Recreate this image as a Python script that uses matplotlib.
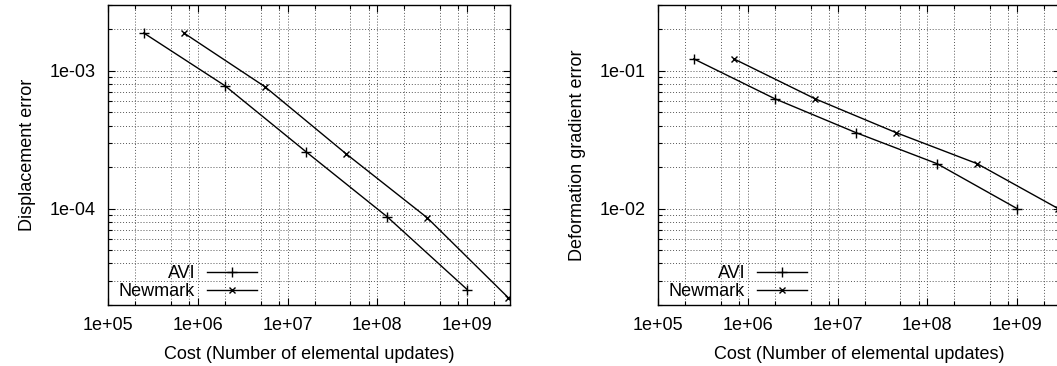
#!/usr/bin/env python3
"""
AVI vs Newmark convergence plots (gnuplot-style look)
"""

import matplotlib
matplotlib.use('Agg')
import matplotlib.pyplot as plt
from matplotlib.ticker import LogLocator, FuncFormatter, NullFormatter

plt.rcParams['font.family'] = ['Liberation Sans', 'DejaVu Sans']
plt.rcParams['font.size'] = 13

# data
avi_cost = [2.5e5, 2.0e6, 1.6e7, 1.28e8, 1.0e9]
newmark_cost = [7.0e5, 5.6e6, 4.48e7, 3.58e8, 2.87e9]

avi_disp = [1.88e-3, 7.8e-4, 2.59e-4, 8.75e-5, 2.59e-5]
newmark_disp = [1.88e-3, 7.66e-4, 2.5e-4, 8.6e-5, 2.26e-5]

avi_defgrad = [0.122, 0.0627, 0.0356, 0.0212, 0.0100]
newmark_defgrad = [0.122, 0.0627, 0.0356, 0.0212, 0.0100]

xlim = (1e5, 3.0e9)
disp_ylim = (2e-5, 3e-3)
defgrad_ylim = (2e-3, 3e-1)

W, H = 1057, 366


def style_axes(ax, ylim, ylabel):
    ax.set_xscale('log')
    ax.set_yscale('log')
    ax.set_xlim(*xlim)
    ax.set_ylim(*ylim)

    ax.xaxis.set_major_locator(LogLocator(base=10, numticks=20))
    ax.xaxis.set_minor_locator(LogLocator(base=10, subs=(2, 5, 8), numticks=20))
    ax.yaxis.set_major_locator(LogLocator(base=10, numticks=20))
    ax.yaxis.set_minor_locator(LogLocator(base=10, subs=range(2, 10), numticks=20))

    fmt = FuncFormatter(lambda v, pos: f"{v:.0e}")
    ax.xaxis.set_major_formatter(fmt)
    ax.yaxis.set_major_formatter(fmt)
    ax.xaxis.set_minor_formatter(NullFormatter())
    ax.yaxis.set_minor_formatter(NullFormatter())

    ax.tick_params(which='both', direction='in', top=True, right=True, width=0.8)
    ax.tick_params(which='major', length=5, pad=9)
    ax.tick_params(which='minor', length=3)

    ax.grid(True, which='both', linestyle=(0, (1, 2)), linewidth=0.7, color='#555555')
    ax.set_axisbelow(True)
    for s in ax.spines.values():
        s.set_linewidth(1.0)

    ax.set_xlabel('Cost (Number of elemental updates)', labelpad=8)
    ax.set_ylabel(ylabel, labelpad=10)


def draw(ax, avi_y, newmark_y):
    ax.plot(avi_cost, avi_y, color='black', linewidth=1.0, marker='+',
            markersize=7, markeredgewidth=1.0, label='AVI')
    ax.plot(newmark_cost, newmark_y, color='black', linewidth=1.0, marker='x',
            markersize=5, markeredgewidth=1.0, label='Newmark')
    ax.legend(loc='lower left', bbox_to_anchor=(0.027, 0.017),
              markerfirst=False, frameon=False,
              handlelength=2.8, handletextpad=0.65, labelspacing=0.05,
              borderaxespad=0, borderpad=0)


fig = plt.figure(figsize=(W / 100, H / 100), dpi=100)

ax1 = fig.add_axes([108 / W, 61 / H, 402 / W, 300 / H])
style_axes(ax1, disp_ylim, 'Displacement error')
draw(ax1, avi_disp, newmark_disp)

ax2 = fig.add_axes([658 / W, 61 / H, 402 / W, 300 / H])
style_axes(ax2, defgrad_ylim, 'Deformation gradient error')
draw(ax2, avi_defgrad, newmark_defgrad)

fig.savefig('out.png', dpi=100)
